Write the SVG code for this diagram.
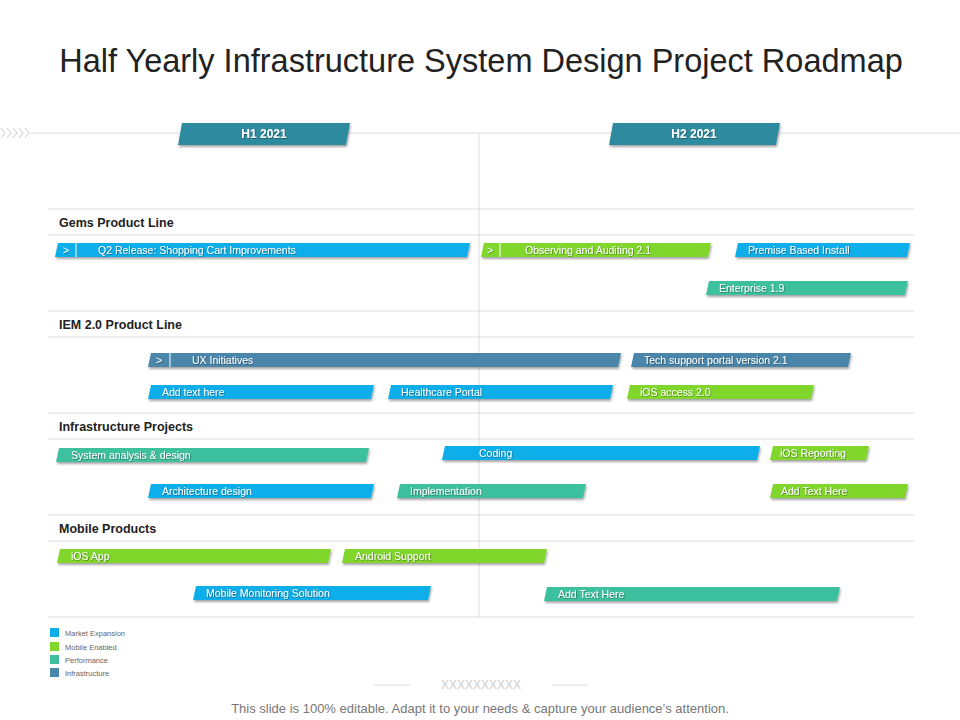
<svg xmlns="http://www.w3.org/2000/svg" width="960" height="720" viewBox="0 0 960 720">
<defs>
<filter id="sh" x="-5%" y="-50%" width="110%" height="220%"><feDropShadow dx="1" dy="2" stdDeviation="1.2" flood-color="#000" flood-opacity="0.35"/></filter>
<filter id="ts" x="-5%" y="-30%" width="110%" height="160%"><feDropShadow dx="0.6" dy="0.6" stdDeviation="0.3" flood-color="#000" flood-opacity="0.5"/></filter>
</defs>
<style>
.t{font-family:"Liberation Sans",Arial,sans-serif}
.bt{font-family:"Liberation Sans",Arial,sans-serif;font-size:10.5px;fill:#fff;filter:url(#ts)}
.sec{font-family:"Liberation Sans",Arial,sans-serif;font-size:12.5px;font-weight:bold;fill:#222}
.ln{stroke:#dcdcdc;stroke-width:1}
.b{fill:#0BAEE9}.g{fill:#80D62A}.tl{fill:#3EC09E}.i{fill:#4886AA}
.lg{font-family:"Liberation Sans",Arial,sans-serif;font-size:7.5px;fill:#666}
.ch{fill:none;stroke:#ccc;stroke-width:1}
</style>
<rect width="960" height="720" fill="#fff"/>
<text class="t" x="481" y="72" font-size="32.5" fill="#222" text-anchor="middle">Half Yearly Infrastructure System Design Project Roadmap</text>
<g id="grid">
<line class="ln" x1="30" y1="133" x2="960" y2="133"/>
<line class="ln" x1="479" y1="133" x2="479" y2="617"/>
<line class="ln" x1="48" y1="209" x2="914" y2="209"/><line class="ln" x1="48" y1="235" x2="914" y2="235"/>
<line class="ln" x1="48" y1="311" x2="914" y2="311"/><line class="ln" x1="48" y1="337" x2="914" y2="337"/>
<line class="ln" x1="48" y1="413" x2="914" y2="413"/><line class="ln" x1="48" y1="439" x2="914" y2="439"/>
<line class="ln" x1="48" y1="515" x2="914" y2="515"/><line class="ln" x1="48" y1="541" x2="914" y2="541"/>
<line class="ln" x1="48" y1="617" x2="914" y2="617"/>
<polyline class="ch" points="1,128 5,133 1,138"/><polyline class="ch" points="7,128 11,133 7,138"/><polyline class="ch" points="13,128 17,133 13,138"/><polyline class="ch" points="19,128 23,133 19,138"/><polyline class="ch" points="25,128 29,133 25,138"/>
</g>
<g id="h1"><polygon points="182,123 350,123 346,145 178,145" fill="#2E8A9E" filter="url(#sh)"/><text class="t" x="264" y="138" font-size="12" font-weight="bold" fill="#fff" text-anchor="middle" filter="url(#ts)">H1 2021</text></g>
<g id="h2"><polygon points="613,123 780,123 776,145 609,145" fill="#2E8A9E" filter="url(#sh)"/><text class="t" x="694" y="138" font-size="12" font-weight="bold" fill="#fff" text-anchor="middle" filter="url(#ts)">H2 2021</text></g>
<text class="sec" x="59" y="227">Gems Product Line</text>
<text class="sec" x="59" y="329">IEM 2.0 Product Line</text>
<text class="sec" x="59" y="431">Infrastructure  Projects</text>
<text class="sec" x="59" y="533">Mobile Products</text>
<g id="bars">
<g id="b1"><polygon class="b" points="58,243 470,243 467,257 55,257" filter="url(#sh)"/><line x1="76" y1="243" x2="76" y2="257" stroke="#fff"/><text class="bt" x="63" y="254">&gt;</text><text class="bt" x="98" y="254">Q2 Release:  Shopping Cart Improvements</text></g>
<g id="b2"><polygon class="g" points="484,243 711,243 708,257 481,257" filter="url(#sh)"/><line x1="500" y1="243" x2="500" y2="257" stroke="#fff"/><text class="bt" x="487" y="254">&gt;</text><text class="bt" x="525" y="254">Observing and Auditing 2.1</text></g>
<g id="b3"><polygon class="b" points="738,243 910,243 907,257 735,257" filter="url(#sh)"/><text class="bt" x="748" y="254">Premise Based Install</text></g>
<g id="b4"><polygon class="tl" points="709,281 908,281 905,295 706,295" filter="url(#sh)"/><text class="bt" x="719" y="292">Enterprise 1.9</text></g>
<g id="b5"><polygon class="i" points="151,353 621,353 618,367 148,367" filter="url(#sh)"/><line x1="170" y1="353" x2="170" y2="367" stroke="#fff"/><text class="bt" x="156" y="364">&gt;</text><text class="bt" x="192" y="364">UX Initiatives</text></g>
<g id="b6"><polygon class="i" points="634,353 851,353 848,367 631,367" filter="url(#sh)"/><text class="bt" x="644" y="364">Tech support portal version 2.1</text></g>
<g id="b7"><polygon class="b" points="151,385 374,385 371,399 148,399" filter="url(#sh)"/><text class="bt" x="162" y="396">Add text here</text></g>
<g id="b8"><polygon class="b" points="391,385 613,385 610,399 388,399" filter="url(#sh)"/><text class="bt" x="401" y="396">Healthcare Portal</text></g>
<g id="b9"><polygon class="g" points="630,385 814,385 811,399 627,399" filter="url(#sh)"/><text class="bt" x="640" y="396">iOS access 2.0</text></g>
<g id="b10"><polygon class="tl" points="59,448 369,448 366,462 56,462" filter="url(#sh)"/><text class="bt" x="71" y="459">System analysis &amp; design</text></g>
<g id="b11"><polygon class="b" points="445,446 760,446 757,460 442,460" filter="url(#sh)"/><text class="bt" x="479" y="457">Coding</text></g>
<g id="b12"><polygon class="g" points="773,446 869,446 866,460 770,460" filter="url(#sh)"/><text class="bt" x="780" y="457">iOS Reporting</text></g>
<g id="b13"><polygon class="b" points="151,484 374,484 371,498 148,498" filter="url(#sh)"/><text class="bt" x="162" y="495">Architecture design</text></g>
<g id="b14"><polygon class="tl" points="400,484 586,484 583,498 397,498" filter="url(#sh)"/><text class="bt" x="410" y="495">Implementation</text></g>
<g id="b15"><polygon class="g" points="773,484 908,484 905,498 770,498" filter="url(#sh)"/><text class="bt" x="781" y="495">Add Text Here</text></g>
<g id="b16"><polygon class="g" points="60,549 331,549 328,563 57,563" filter="url(#sh)"/><text class="bt" x="71" y="560">iOS App</text></g>
<g id="b17"><polygon class="g" points="345,549 547,549 544,563 342,563" filter="url(#sh)"/><text class="bt" x="355" y="560">Android Support</text></g>
<g id="b18"><polygon class="b" points="196,586 431,586 428,600 193,600" filter="url(#sh)"/><text class="bt" x="206" y="597">Mobile Monitoring Solution</text></g>
<g id="b19"><polygon class="tl" points="547,587 840,587 837,601 544,601" filter="url(#sh)"/><text class="bt" x="558" y="598">Add Text Here</text></g>
</g>
<g id="legend">
<rect class="b" x="50" y="628" width="9" height="9"/><text class="lg" x="65" y="636">Market Expansion</text>
<rect class="g" x="50" y="642" width="9" height="9"/><text class="lg" x="65" y="650">Mobile Enabled</text>
<rect class="tl" x="50" y="655" width="9" height="9"/><text class="lg" x="65" y="663">Performance</text>
<rect class="i" x="50" y="668" width="9" height="9"/><text class="lg" x="65" y="676">Infrastructure</text>
</g>
<line class="ln" x1="374" y1="685" x2="410" y2="685"/><line class="ln" x1="552" y1="685" x2="588" y2="685"/>
<text class="t" x="481" y="689" font-size="12" fill="#ccc" text-anchor="middle">XXXXXXXXXX</text>
<text class="t" x="480" y="713" font-size="13" fill="#777" text-anchor="middle">This slide is 100% editable. Adapt it to your needs &amp; capture your audience’s attention.</text>
</svg>
